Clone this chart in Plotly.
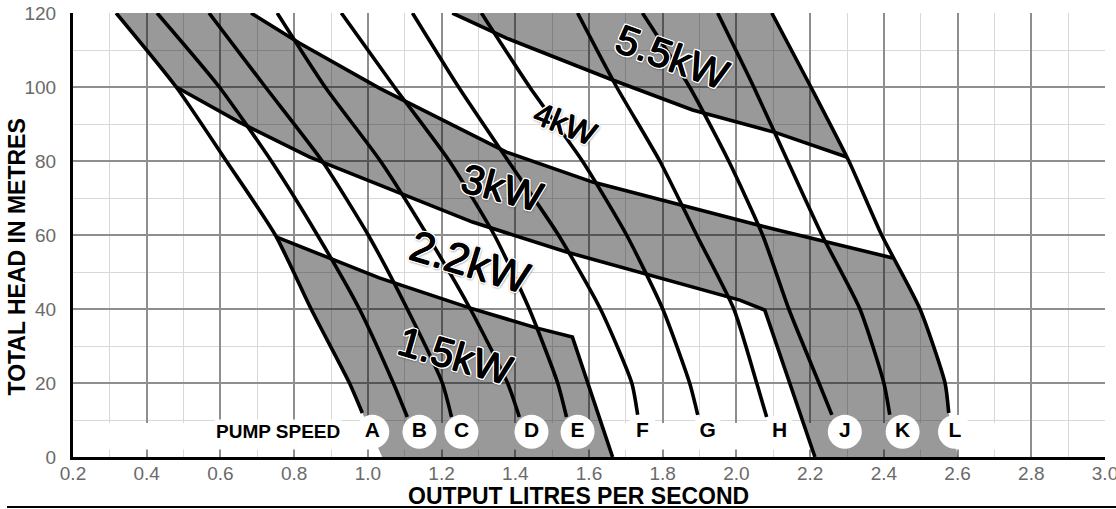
import plotly.graph_objects as go

FONT = "Liberation Sans, Arial, Helvetica, sans-serif"

# ---------------- data ----------------
speed_names = ["A", "B", "C", "D", "E", "F", "G", "H", "J", "K", "L"]
head_levels = [120, 100, 80, 60, 40, 20]          # heads (m) at which flows were read
# flow (l/s) of each pump-speed curve at head_levels, last value = curve end
flow_A = [0.317, 0.480, 0.616, 0.749, 0.846, 0.950, 0.985]
flow_B = [0.428, 0.597, 0.738, 0.863, 0.977, 1.069, 1.107]
flow_C = [0.569, 0.722, 0.876, 1.001, 1.107, 1.202, 1.227]
flow_D = [0.754, 0.884, 1.034, 1.161, 1.278, 1.379, 1.411]
flow_E = [0.928, 1.072, 1.221, 1.343, 1.438, 1.515, 1.539]
flow_F = [1.121, 1.246, 1.381, 1.517, 1.631, 1.716, 1.732]
flow_G = [1.308, 1.439, 1.582, 1.702, 1.800, 1.873, 1.895]
flow_H = [1.569, 1.675, 1.792, 1.892, 1.993, 2.055, 2.082]
flow_J = [1.745, 1.873, 1.979, 2.071, 2.142, 2.224, 2.259]
flow_K = [1.949, 2.047, 2.139, 2.232, 2.335, 2.400, 2.416]
flow_L = [2.096, 2.202, 2.305, 2.394, 2.498, 2.566, 2.576]
end_head = [11.9, 10.8, 10.8, 10.8, 10.8, 11.4, 11.4, 10.8, 11.4, 11.4, 11.9]
a_foot_flow = 1.039      # where the A edge of the shaded area meets the axis
l_foot_flow = 2.601      # where the L edge of the shaded area meets the axis

label_flow = [1.012, 1.140, 1.254, 1.444, 1.569, 1.745, 1.922, 2.117, 2.294, 2.451, 2.593]
label_head = 6.8

# motor power limit lines
kw15_flow = [0.751, 0.895, 1.031, 1.276, 1.457, 1.555, 1.664]
kw15_head = [59.5, 53.8, 48.4, 40.3, 34.9, 32.4, 0]
kw22_flow = [0.480, 0.651, 0.841, 1.031, 1.284, 1.539, 2.009, 2.077, 2.213]
kw22_head = [100, 90.5, 81.1, 73.5, 63.5, 55.4, 42.4, 39.7, 0]
kw3_flow = [0.683, 0.814, 1.031, 1.376, 1.610, 1.846, 2.109, 2.424]
kw3_head = [120, 111.9, 99.7, 82.4, 74.3, 68.1, 61.4, 53.8]
kw4_flow = [1.229, 1.376, 1.664, 1.881, 2.109, 2.299]
kw4_head = [120, 113.2, 101.9, 93.8, 87.6, 81.1]

power_labels = ["5.5kW", "4kW", "3kW", "2.2kW", "1.5kW"]
power_label_flow = [1.824, 1.536, 1.365, 1.278, 1.237]
power_label_head = [108.1, 90.0, 72.7, 52.7, 27.3]
power_label_angle = [20, 22, 15, 17, 16]
power_label_size = [41, 32, 41, 43, 41]

x_ticks = [0.2, 0.4, 0.6, 0.8, 1.0, 1.2, 1.4, 1.6, 1.8, 2.0, 2.2, 2.4, 2.6, 2.8, 3.0]
y_ticks = [0, 20, 40, 60, 80, 100, 120]

flows = [flow_A, flow_B, flow_C, flow_D, flow_E, flow_F, flow_G, flow_H, flow_J, flow_K, flow_L]
heads = [head_levels + [e] for e in end_head]

fig = go.Figure()
GRAY = "rgba(0,0,0,0.40)"

# white strip behind the pump speed row (hides the grid there)
fig.add_shape(type="rect", xref="x", yref="y", x0=0.2, x1=2.75, y0=2.0, y1=9.2,
              fillcolor="white", line=dict(width=0), layer="between")

# ---------- shaded power bands ----------
hA, fA = heads[0], flow_A
hL, fL = heads[-1], flow_L

# 1.5 kW band
g1x = [kw15_flow[0]] + [x for x, h in zip(fA, hA) if h < kw15_head[0]] + [a_foot_flow] + kw15_flow[::-1]
g1y = [kw15_head[0]] + [h for h in hA if h < kw15_head[0]] + [0] + kw15_head[::-1]
# 3 kW band
g2x = [x for x, h in zip(fA, hA) if h >= kw22_head[0]] + kw22_flow[1:] + [l_foot_flow] \
      + [x for x, h in zip(fL, hL) if h < kw3_head[-1]][::-1] + kw3_flow[::-1]
g2y = [h for h in hA if h >= kw22_head[0]] + kw22_head[1:] + [0] \
      + [h for h in hL if h < kw3_head[-1]][::-1] + kw3_head[::-1]
# 5.5 kW band
g3x = kw4_flow + [x for x, h in zip(fL, hL) if h > kw4_head[-1]][::-1]
g3y = kw4_head + [h for h in hL if h > kw4_head[-1]][::-1]

for gx, gy in [(g1x, g1y), (g2x, g2y), (g3x, g3y)]:
    fig.add_trace(go.Scatter(x=gx, y=gy, mode="lines", fill="toself", fillcolor=GRAY,
                             line=dict(width=0, color="rgba(0,0,0,0)"), hoverinfo="skip"))

# ---------- power limit lines ----------
for fx, hy in [(kw15_flow, kw15_head), (kw22_flow, kw22_head), (kw3_flow, kw3_head), (kw4_flow, kw4_head)]:
    fig.add_trace(go.Scatter(x=fx, y=hy, mode="lines", line=dict(color="black", width=3.6),
                             hoverinfo="skip"))

# ---------- pump speed curves ----------
for name, fx, hy in zip(speed_names, flows, heads):
    fig.add_trace(go.Scatter(x=fx, y=hy, mode="lines", name=name,
                             line=dict(color="black", width=3.6, shape="spline", smoothing=0.6)))

# ---------- speed labels ----------
fig.add_trace(go.Scatter(x=label_flow, y=[label_head] * len(label_flow), mode="markers+text",
                         text=speed_names, textposition="middle center",
                         marker=dict(size=34, color="white", line=dict(width=0)),
                         textfont=dict(family=FONT, size=21, color="black", weight="bold"),
                         cliponaxis=False, hoverinfo="skip"))

fig.add_annotation(x=0.757, y=label_head, text="PUMP SPEED", showarrow=False,
                   font=dict(family=FONT, size=19, color="black", weight="bold"),
                   bgcolor="white", borderpad=1, xanchor="center", yanchor="middle")

shadow = ("0.6px 0 0 #000, -0.6px 0 0 #000, 0 0.6px 0 #000, 0 -0.6px 0 #000, "
          "1.5px 1.5px 0 #fff, -1.5px -1.5px 0 #fff, 1.5px -1.5px 0 #fff, -1.5px 1.5px 0 #fff, "
          "0 1.8px 0 #fff, 0 -1.8px 0 #fff, 1.8px 0 0 #fff, -1.8px 0 0 #fff, "
          "0 0 3px #000, 1px 1px 3px #222")
for t, x, y, a, s in zip(power_labels, power_label_flow, power_label_head, power_label_angle, power_label_size):
    fig.add_annotation(x=x, y=y, text=t, showarrow=False, textangle=a,
                       font=dict(family=FONT, size=s, color="black", shadow=shadow),
                       xanchor="center", yanchor="middle")

# ---------- axis titles ----------
fig.add_annotation(xref="paper", yref="paper", x=(16.5 - 73) / 1032, y=(457 - 257) / 444,
                   text="TOTAL HEAD IN METRES", textangle=-90, showarrow=False,
                   font=dict(family=FONT, size=23, color="black", weight="bold"),
                   xanchor="center", yanchor="middle")
fig.add_annotation(xref="paper", yref="paper", x=(578 - 73) / 1032, y=(457 - 496) / 444,
                   text="OUTPUT LITRES PER SECOND", showarrow=False,
                   font=dict(family=FONT, size=23, color="black", weight="bold"),
                   xanchor="center", yanchor="middle")

fig.add_shape(type="line", xref="paper", yref="paper", x0=(7 - 73) / 1032, x1=(1116 - 73) / 1032,
              y0=(457 - 507) / 444, y1=(457 - 507) / 444, line=dict(color="black", width=2))

axis_common = dict(showgrid=True, gridcolor="#8e8e8e", gridwidth=1.5, showline=True,
                   linecolor="black", linewidth=3, ticks="", zeroline=False, automargin=False,
                   ticklabeloverflow="allow",
                   tickfont=dict(family=FONT, size=19, color="#6a6a6a"), fixedrange=True)
fig.update_xaxes(range=[0.2, 3.0], tickvals=x_ticks, ticktext=[f"{v:.1f}" for v in x_ticks],
                 minor=dict(dtick=0.1, tick0=0.2, showgrid=True, gridcolor="#d8d8d8", gridwidth=1.2),
                 ticklabelstandoff=-3, **axis_common)
fig.update_yaxes(range=[0, 120], tickvals=y_ticks, ticktext=[str(v) for v in y_ticks],
                 minor=dict(dtick=10, tick0=0, showgrid=True, gridcolor="#d8d8d8", gridwidth=1.2),
                 ticklabelstandoff=10, **axis_common)

fig.update_layout(width=1116, height=509, margin=dict(l=73, r=11, t=13, b=52, autoexpand=False),
                  plot_bgcolor="white", paper_bgcolor="white", showlegend=False,
                  font=dict(family=FONT))

fig.write_html("out.html", config={"displayModeBar": False},
               post_script="document.body.style.margin='0px';document.body.style.overflow='hidden';")
